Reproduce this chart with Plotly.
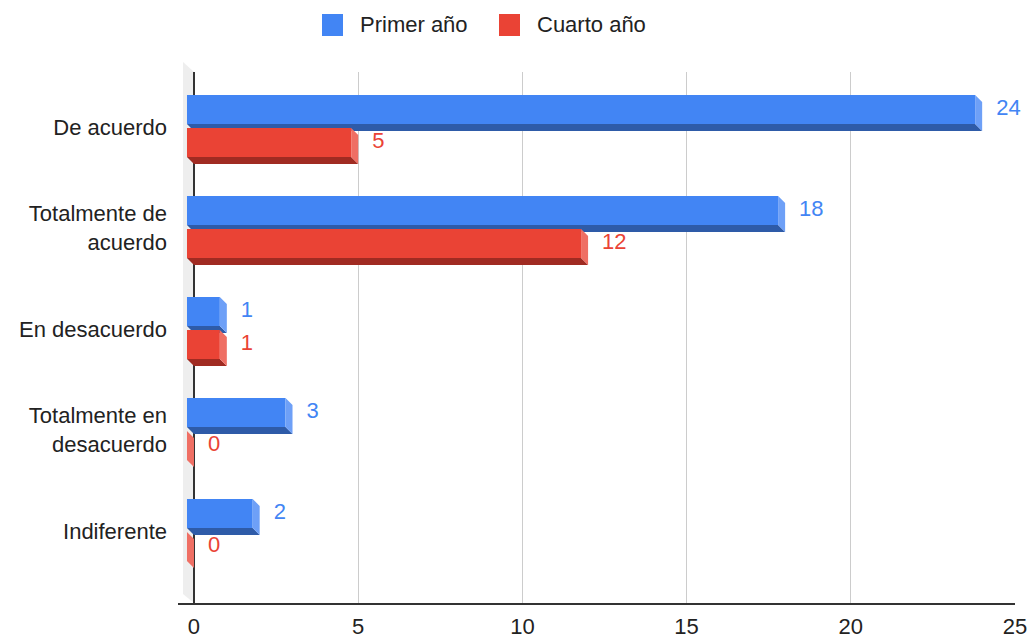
import plotly.graph_objects as go

# ---------------- data ----------------
categories = ["De acuerdo", "Totalmente de<br>acuerdo", "En desacuerdo",
              "Totalmente en<br>desacuerdo", "Indiferente"]
primer_ano = [24, 18, 1, 3, 2]
cuarto_ano = [5, 12, 1, 0, 0]
series_names = ["Primer año", "Cuarto año"]
x_ticks = [0, 5, 10, 15, 20, 25]

# ---------------- styling / geometry ----------------
OFF = 0  # page body margin is removed below
W, H = 1029 - OFF, 638 - OFF
ML, MR, MT, MB = 178 - OFF, 14, 72 - OFF, 35
X_RANGE = [-0.487, 25]
Y_RANGE = [4.713, -0.545]          # reversed: first category on top
PLOT_W = W - ML - MR
PLOT_H = H - MT - MB
PX_X = PLOT_W / (X_RANGE[1] - X_RANGE[0])   # px per x unit
PX_Y = PLOT_H / (Y_RANGE[0] - Y_RANGE[1])   # px per y unit

DEPTH = 7  # px of 3D depth
dx = DEPTH / PX_X
dy = DEPTH / PX_Y

colors = {
    "Primer año": dict(front="#4285F4", bottom="#2E5BA8", side="#6EA0F7"),
    "Cuarto año": dict(front="#EA4335", bottom="#A02B22", side="#EF6F64"),
}
# front-face vertical extent (px, relative to category centre)
face_px = {"Primer año": (-32, -3), "Cuarto año": (1, 30)}
FONT = "'Liberation Sans', Arial, sans-serif"
FS = 22

fig = go.Figure()

series_values = {"Primer año": primer_ano, "Cuarto año": cuarto_ano}

label_traces = []
for name in series_names:
    vals = series_values[name]
    c = colors[name]
    t_off, b_off = face_px[name]
    fx, fy, bx, by, sx, sy = [], [], [], [], [], []
    lx, ly = [], []
    for i, v in enumerate(vals):
        yt = i + t_off / PX_Y
        yb = i + b_off / PX_Y
        x0 = -dx
        x1 = v - dx
        if v > 0:
            fx += [x0, x1, x1, x0, x0, None]
            fy += [yt, yt, yb, yb, yt, None]
            bx += [x0, x1, v, 0, x0, None]
            by += [yb, yb, yb + dy, yb + dy, yb, None]
        sx += [x1, v, v, x1, x1, None]
        sy += [yt, yt + dy, yb + dy, yb, yt, None]
        lx.append(v + 14 / PX_X)
        ly.append((yt + yb) / 2)
    for xs, ys, col in ((fx, fy, c["front"]), (bx, by, c["bottom"]), (sx, sy, c["side"])):
        if xs:
            fig.add_trace(go.Scatter(x=xs, y=ys, mode="lines", fill="toself",
                                     fillcolor=col, line=dict(width=0, color=col),
                                     hoverinfo="skip", showlegend=False))
    label_traces.append(go.Scatter(x=lx, y=ly, mode="text", text=[str(v) for v in vals],
                                   textposition="middle right",
                                   textfont=dict(family=FONT, size=FS, color=c["front"]),
                                   hoverinfo="skip", showlegend=False, cliponaxis=False))
for t in label_traces:
    fig.add_trace(t)


def px2paper_x(px):
    return (px - OFF - ML) / PLOT_W


def px2paper_y(py):
    return (H - MB - (py - OFF)) / PLOT_H


shapes = []
# back wall left of the zero line
wx0 = px2paper_x(183)
wx1 = px2paper_x(194)
shapes.append(dict(type="path", xref="paper", yref="paper", layer="below",
                   path=f"M{wx0},{px2paper_y(62)} L{wx1},{px2paper_y(72)} L{wx1},{px2paper_y(603)} L{wx0},{px2paper_y(594)} Z",
                   fillcolor="#EEEEEE", line=dict(width=0)))

# custom legend
annotations = []
leg = [("Primer año", 322, 358), ("Cuarto año", 499, 535)]
for name, sq_x, tx in leg:
    shapes.append(dict(type="rect", xref="paper", yref="paper",
                       x0=px2paper_x(sq_x), x1=px2paper_x(sq_x + 21),
                       y0=px2paper_y(36), y1=px2paper_y(14),
                       fillcolor=colors[name]["front"], line=dict(width=0)))
    annotations.append(dict(xref="paper", yref="paper", x=px2paper_x(tx), y=px2paper_y(25),
                            xanchor="left", yanchor="middle", text=name, showarrow=False,
                            font=dict(family=FONT, size=FS, color="#222222")))

fig.update_layout(
    width=W, height=H,
    margin=dict(l=ML, r=MR, t=MT, b=MB, pad=0, autoexpand=False),
    paper_bgcolor="white", plot_bgcolor="white",
    showlegend=False,
    font=dict(family=FONT, size=FS, color="#222222"),
    shapes=shapes, annotations=annotations,
    xaxis=dict(range=X_RANGE, tickvals=x_ticks, ticktext=[str(t) for t in x_ticks],
               showgrid=True, gridcolor="#CCCCCC", gridwidth=1,
               zeroline=True, zerolinecolor="#333333", zerolinewidth=2,
               showline=True, linecolor="#333333", linewidth=2,
               ticks="", ticklabelstandoff=3, fixedrange=True, automargin=False,
               tickfont=dict(family=FONT, size=FS, color="#222222")),
    yaxis=dict(range=Y_RANGE, tickvals=list(range(len(categories))), ticktext=categories,
               showgrid=False, zeroline=False, showline=False, ticks="",
               ticklabelstandoff=10, fixedrange=True, automargin=False,
               tickfont=dict(family=FONT, size=FS, color="#222222")),
)

fig.write_html(
    "out.html",
    config={"displayModeBar": False},
    post_script="document.body.style.margin='0';document.body.style.overflow='hidden';",
)
